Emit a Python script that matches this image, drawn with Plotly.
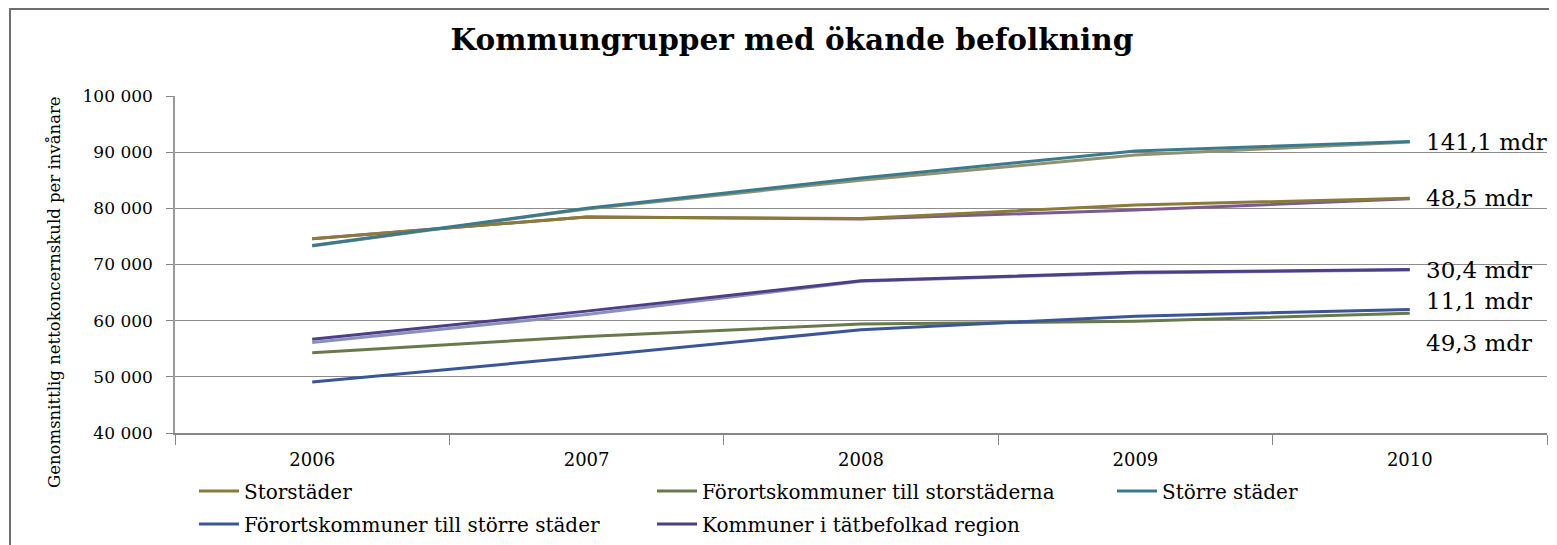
import plotly.graph_objects as go

years = ["2006", "2007", "2008", "2009", "2010"]

storstader = [74600, 78450, 78200, 80600, 81800]
forort_storstaderna = [54300, 57200, 59400, 59900, 61300]
storre_stader = [73400, 80000, 85400, 90200, 91900]
forort_storre = [49100, 53600, 58400, 60800, 62000]
tatbefolkad = [56700, 61700, 67100, 68600, 69100]

# faint companion lines visible beneath the main series (no legend entries)
extra_a = [73300, 79900, 85000, 89500, 91800]
extra_b = [74600, 78450, 78100, 79700, 81700]
extra_c = [56100, 61100, 67000, 68500, 69000]

end_labels = ["141,1 mdr", "48,5 mdr", "30,4 mdr", "11,1 mdr", "49,3 mdr"]

FONT = "DejaVu Serif"
OFF = 8                      # page body margin
W, H = 1557 - OFF, 545 - OFF
PL, PR, PT, PB = 175, 1547, 96, 433   # plot area in page pixels


def cx(px):
    return (px - OFF) / W


def cy(py):
    return 1 - (py - OFF) / H


fig = go.Figure()

for vals, col in [(extra_a, "#8F9270"), (extra_b, "#7A5A92"), (extra_c, "#8A90BC")]:
    fig.add_trace(go.Scatter(x=years, y=vals, mode="lines", showlegend=False,
                             hoverinfo="skip", line=dict(color=col, width=3)))

main = [
    ("Storstäder", storstader, "#8C7B38", "legend", 194, 491),
    ("Förortskommuner till storstäderna", forort_storstaderna, "#687A4C", "legend2", 652, 491),
    ("Större städer", storre_stader, "#3B7A8C", "legend3", 1112, 491),
    ("Förortskommuner till större städer", forort_storre, "#3A5697", "legend4", 194, 524),
    ("Kommuner i tätbefolkad region", tatbefolkad, "#4E3E86", "legend5", 652, 524),
]
legends = {}
for name, vals, col, lg, lx, ly in main:
    fig.add_trace(go.Scatter(x=years, y=vals, mode="lines", name=name,
                             legend=lg, line=dict(color=col, width=3)))
    legends[lg] = dict(orientation="v", xref="container", yref="container",
                       x=cx(lx), xanchor="left", y=cy(ly), yanchor="middle",
                       itemwidth=40, font=dict(family=FONT, size=20),
                       bgcolor="rgba(0,0,0,0)")

# end-of-line labels, anchored to each series' last value
label_series = [storre_stader, storstader, tatbefolkad, forort_storre, forort_storstaderna]
label_shift = [0, 0, 0, 8, -30]
for txt, s, sh in zip(end_labels, label_series, label_shift):
    fig.add_annotation(x=4, y=s[-1], xref="x", yref="y", text=txt,
                       showarrow=False, xanchor="left", yanchor="middle",
                       xshift=14, yshift=sh,
                       font=dict(family=FONT, size=23, color="#000000"))

fig.add_annotation(text="Genomsnittlig nettokoncernskuld per invånare",
                   xref="paper", yref="paper",
                   x=(54 - PL) / (PR - PL), y=(PB - 292) / (PB - PT),
                   textangle=-90, showarrow=False, xanchor="center", yanchor="middle",
                   font=dict(family=FONT, size=16.5, color="#000000"))

fig.add_shape(type="rect", xref="paper", yref="paper",
              x0=(10 - PL) / (PR - PL), x1=1.2, y0=-1.0, y1=(PB - 9) / (PB - PT),
              line=dict(color="#6E6E6E", width=2), layer="below")

fig.update_layout(
    width=W, height=H,
    margin=dict(l=PL - OFF, r=W - (PR - OFF), t=PT - OFF, b=H - (PB - OFF), autoexpand=False),
    paper_bgcolor="white", plot_bgcolor="white",
    separators=", ",
    title=dict(text="<b>Kommungrupper med ökande befolkning</b>",
               x=cx(792), xanchor="center", y=cy(40), yanchor="middle",
               font=dict(family=FONT, size=29.5, color="#000000")),
    font=dict(family=FONT, size=16, color="#000000"),
    xaxis=dict(type="category", range=[-0.5, 4.5], showgrid=False, automargin=False,
               showline=True, linecolor="#868686", linewidth=1.5,
               ticks="outside", tickson="boundaries", ticklen=10, tickcolor="#868686",
               ticklabelstandoff=10, tickfont=dict(family=FONT, size=18)),
    yaxis=dict(range=[40000, 100000], dtick=10000, tickformat=",d", automargin=False,
               showgrid=True, gridcolor="#8C8C8C", gridwidth=1,
               showline=True, linecolor="#9A9A9A", linewidth=1.5,
               ticks="outside", ticklen=7, tickcolor="#868686",
               ticklabelstandoff=10, tickfont=dict(family=FONT, size=17),
               zeroline=False),
    **legends,
)

fig.write_html("out.html")
